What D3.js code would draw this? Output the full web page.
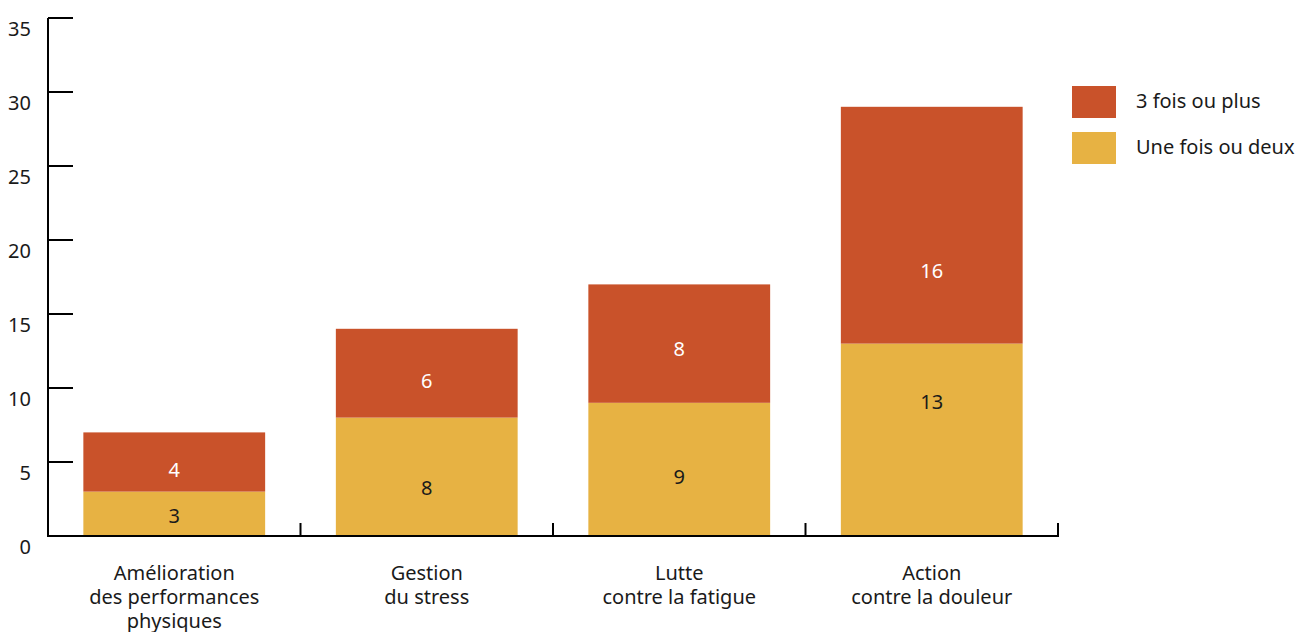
<!DOCTYPE html>
<meta charset="utf-8">
<style>
    body {
        margin: 0;
        background: #fff;
    }

    text {
        font-family: "Noto Sans", sans-serif;
        fill: #1a1a1a;
    }
</style>

<body>
    <svg width="1298" height="632"></svg>
    <script src="https://d3js.org/d3.v7.min.js"></script>
    <script>
        var categories = [
            ["Amélioration", "des performances", "physiques"],
            ["Gestion", "du stress"],
            ["Lutte", "contre la fatigue"],
            ["Action", "contre la douleur"]
        ];
        var onceTwice = [3, 8, 9, 13];
        var threePlus = [4, 6, 8, 16];
        var seriesNames = ["3 fois ou plus", "Une fois ou deux"];
        var yTicks = [0, 5, 10, 15, 20, 25, 30, 35];

        // label nudges in px (the original doesn't centre them exactly)
        var lowShift = [2, 11, 8, -38];
        var highShift = [8, 8, 5, 46];

        var svg = d3.select("svg");
        var colors = { low: "#e7b243", high: "#c9522a" };

        var x = d3.scaleBand()
            .domain(d3.range(categories.length))
            .range([48, 1058])
            .paddingInner(0.28)
            .paddingOuter(0.14);

        var y = d3.scaleLinear().domain([0, 35]).range([536, 18]);

        var g = svg.append("g");

        // bars
        var bars = g.selectAll(".bar")
            .data(d3.range(categories.length))
            .enter().append("g");

        bars.append("rect")
            .attr("x", function(i) { return x(i); })
            .attr("width", x.bandwidth())
            .attr("y", function(i) { return y(onceTwice[i]); })
            .attr("height", function(i) { return y(0) - y(onceTwice[i]); })
            .attr("fill", colors.low);

        bars.append("rect")
            .attr("x", function(i) { return x(i); })
            .attr("width", x.bandwidth())
            .attr("y", function(i) { return y(onceTwice[i] + threePlus[i]); })
            .attr("height", function(i) { return y(onceTwice[i]) - y(onceTwice[i] + threePlus[i]); })
            .attr("fill", colors.high);

        bars.append("text")
            .attr("x", function(i) { return x(i) + x.bandwidth() / 2; })
            .attr("y", function(i) { return y(onceTwice[i] / 2) + lowShift[i]; })
            .attr("dy", "0.35em")
            .attr("text-anchor", "middle")
            .style("font-size", "20px")
            .text(function(i) { return onceTwice[i]; });

        bars.append("text")
            .attr("x", function(i) { return x(i) + x.bandwidth() / 2; })
            .attr("y", function(i) { return y(onceTwice[i] + threePlus[i] / 2) + highShift[i]; })
            .attr("dy", "0.35em")
            .attr("text-anchor", "middle")
            .style("font-size", "20px")
            .style("fill", "#fff")
            .text(function(i) { return threePlus[i]; });

        // y axis
        var yAxis = g.append("g");
        yAxis.append("line")
            .attr("x1", 48).attr("x2", 48)
            .attr("y1", y(35)).attr("y2", y(0))
            .attr("stroke", "#000").attr("stroke-width", 2);

        yAxis.selectAll(".ytick")
            .data(yTicks)
            .enter().append("line")
            .attr("x1", 48).attr("x2", 73)
            .attr("y1", function(d) { return y(d); })
            .attr("y2", function(d) { return y(d); })
            .attr("stroke", "#000").attr("stroke-width", 2);

        yAxis.selectAll(".ylabel")
            .data(yTicks)
            .enter().append("text")
            .attr("x", 31)
            .attr("y", function(d) { return y(d) + 11; })
            .attr("dy", "0.35em")
            .attr("text-anchor", "end")
            .style("font-size", "20px")
            .text(function(d) { return d; });

        // x axis
        var xAxis = g.append("g");
        xAxis.append("line")
            .attr("x1", 47).attr("x2", 1059)
            .attr("y1", y(0)).attr("y2", y(0))
            .attr("stroke", "#000").attr("stroke-width", 2);

        xAxis.selectAll(".xtick")
            .data(d3.range(categories.length))
            .enter().append("line")
            .attr("x1", function(i) { return x(i) + x.bandwidth() + x.step() * 0.14; })
            .attr("x2", function(i) { return x(i) + x.bandwidth() + x.step() * 0.14; })
            .attr("y1", y(0) - 13).attr("y2", y(0))
            .attr("stroke", "#000").attr("stroke-width", 2);

        xAxis.selectAll(".xlabel")
            .data(categories)
            .enter().append("text")
            .attr("text-anchor", "middle")
            .attr("transform", function(d, i) {
                return "translate(" + (x(i) + x.bandwidth() / 2) + ",580)";
            })
            .style("font-size", "20px")
            .selectAll("tspan")
            .data(function(d) { return d; })
            .enter().append("tspan")
            .attr("x", 0)
            .attr("y", function(d, j) { return j * 24; })
            .text(function(d) { return d; });

        // legend
        var legend = g.append("g").attr("transform", "translate(1072,86)");
        var legendColors = [colors.high, colors.low];
        seriesNames.forEach(function(name, i) {
            legend.append("rect")
                .attr("x", 0).attr("y", i * 46)
                .attr("width", 44).attr("height", 32)
                .attr("fill", legendColors[i]);
            legend.append("text")
                .attr("x", 64).attr("y", i * 46 + 15)
                .attr("dy", "0.35em")
                .style("font-size", "20px")
                .text(name);
        });
    </script>
</body>
